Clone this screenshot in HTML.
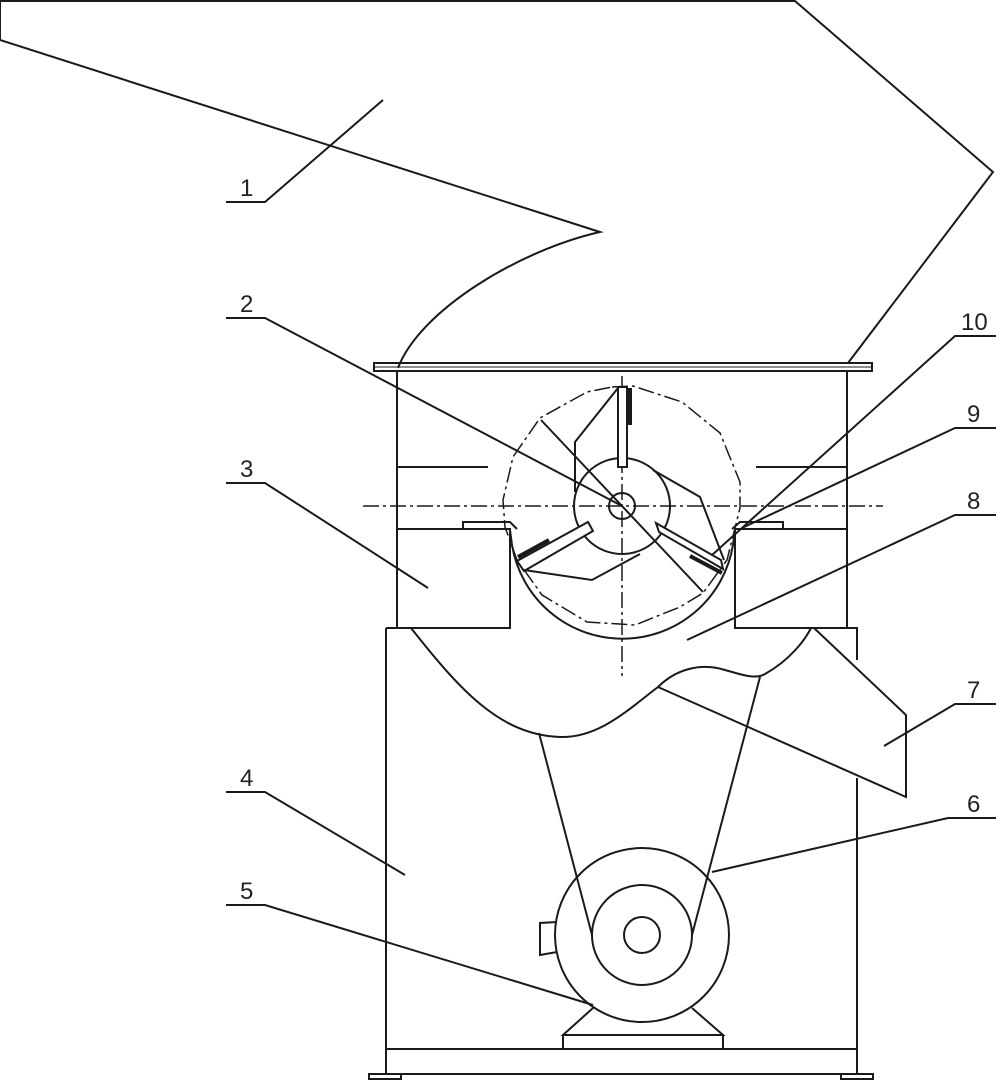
<!DOCTYPE html>
<html><head><meta charset="utf-8"><style>
html,body{margin:0;padding:0;background:#fff;}
svg{display:block;}
text{font-family:"Liberation Sans",sans-serif;font-size:24px;fill:#222;}
</style></head><body>
<svg width="996" height="1080" viewBox="0 0 996 1080" xmlns="http://www.w3.org/2000/svg">
<g fill="none" stroke="#1a1a1a" stroke-width="2">
<!-- hopper 1 -->
<path d="M0,0 L0,40 L600,232 C520,250 420,310 398,368"/>
<path d="M0,1 L795,1 L993,172 L848,363"/>
<!-- top plate -->
<rect x="374" y="363" width="498" height="8"/>
<line x1="374" y1="367" x2="872" y2="367" stroke-width="1"/>
<!-- body walls -->
<line x1="397" y1="371" x2="397" y2="628"/>
<line x1="847" y1="371" x2="847" y2="628"/>
<line x1="397" y1="467" x2="488" y2="467"/>
<line x1="756" y1="467" x2="847" y2="467"/>
<!-- hopper boxes -->
<path d="M397,529 L510,529 L510,628 L397,628"/>
<path d="M847,529 L735,529 L735,628 L847,628"/>
<path d="M463,529 L463,522 L510,522 L517,529"/>
<path d="M783,529 L783,522 L740,522 L732,529"/>
<!-- screen -->
<path d="M510,530 L512,545 A112,112 0 0 0 733,545 L735,530"/>
<!-- lower frame -->
<path d="M386,628 L397,628 M847,628 L857,628 L857,660 M857,778 L857,1050 M386,628 L386,1074 L857,1074 L857,1050"/>
<line x1="386" y1="1049" x2="857" y2="1049"/>
<rect x="369" y="1074" width="32" height="5"/>
<rect x="841" y="1074" width="32" height="5"/>
<!-- funnel -->
<path d="M411,628 C460,690 500,735 560,737 C600,738 630,708 658,687 C675,670 700,662 725,670 C740,674 755,680 765,674 C790,660 805,640 811,628"/>
<!-- chute 7 -->
<path d="M814,628 L906,715 L906,797 L658,687"/>
<!-- belt -->
<line x1="539" y1="733" x2="592" y2="935"/>
<line x1="760" y1="677" x2="692" y2="935"/>
<!-- motor -->
<circle cx="642" cy="935" r="87"/>
<circle cx="642" cy="935" r="50"/>
<circle cx="642" cy="935" r="18"/>
<path d="M557,922 L540,923 L540,955 L557,952"/>
<path d="M593,1008 L563,1035 L723,1035 L692,1008"/>
<rect x="563" y="1035" width="160" height="14"/>
<!-- center lines -->
<g stroke-width="1.5" stroke-dasharray="16,4,3,4">
<line x1="363" y1="506" x2="883" y2="506"/>
<line x1="622" y1="376" x2="622" y2="676"/>
<polygon points="612,387 633,386 682,402 720,433 740,482 740,508 727,560 703,593 680,607 635,625 587,622 542,595 517,560 505,527 503,500 513,457 540,418 587,392"/>
</g>
<!-- rotor -->
<circle cx="622" cy="506" r="48"/>
<circle cx="622" cy="506" r="13"/>
<rect x="618" y="387" width="9" height="80" fill="#fff"/>
<line x1="630" y1="388" x2="630" y2="425" stroke-width="4"/>
<polygon points="588,522 593,531 524,571 517,561" fill="#fff"/>
<line x1="518" y1="557" x2="549" y2="540" stroke-width="4"/>
<polygon points="656,523 659,532 723,569 721,560" fill="#fff"/>
<line x1="690" y1="556" x2="722" y2="573" stroke-width="4"/>
<path d="M618,388 L575,442 L575,492"/>
<path d="M524,570 L592,580 L640,554"/>
<path d="M653,470 L700,497 L724,560"/>
<line x1="541" y1="420" x2="703" y2="592"/>
<!-- leaders -->
<path d="M226,202 L265,202 L383,100"/>
<path d="M226,318 L265,318 L622,506"/>
<path d="M226,483 L265,483 L428,588"/>
<path d="M226,792 L265,792 L405,875"/>
<path d="M226,905 L265,905 L593,1005"/>
<path d="M996,818 L948,818 L712,872"/>
<path d="M996,704 L955,704 L884,746"/>
<path d="M996,515 L955,515 L687,640"/>
<path d="M996,428 L955,428 L742,528"/>
<path d="M996,336 L955,336 L712,555"/>
</g>
<text x="240" y="196">1</text>
<text x="240" y="312">2</text>
<text x="240" y="477">3</text>
<text x="240" y="786">4</text>
<text x="240" y="899">5</text>
<text x="967" y="812">6</text>
<text x="967" y="698">7</text>
<text x="967" y="509">8</text>
<text x="967" y="422">9</text>
<text x="961" y="330">10</text>
</svg>
</body></html>
